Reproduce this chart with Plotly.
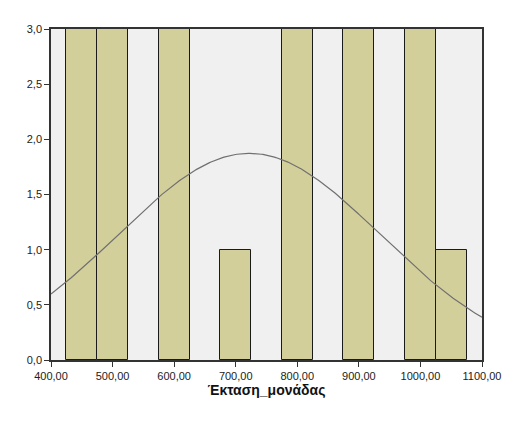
import numpy as np
import plotly.graph_objects as go

bin_centers = [450, 500, 600, 700, 800, 900, 1000, 1050]
counts = [3, 3, 3, 1, 3, 3, 3, 1]
bin_width = 50
curve_mean = 722.0
curve_sd = 213.0
x_ticks = [400, 500, 600, 700, 800, 900, 1000, 1100]
y_ticks = [0, 0.5, 1.0, 1.5, 2.0, 2.5, 3.0]

n_total = sum(counts)
xs = np.linspace(400, 1100, 300)
ys = n_total * bin_width / (curve_sd * np.sqrt(2 * np.pi)) * np.exp(-0.5 * ((xs - curve_mean) / curve_sd) ** 2)

fig = go.Figure()
fig.add_trace(go.Bar(
    x=bin_centers, y=counts, width=[bin_width] * len(bin_centers),
    marker=dict(color="#d3cf9b", line=dict(color="#1a1a1a", width=1)),
    showlegend=False,
))
fig.add_trace(go.Scatter(
    x=xs, y=ys, mode="lines", line=dict(color="#707070", width=1.2),
    showlegend=False,
))

fig.update_layout(
    width=512, height=431,
    margin=dict(l=43, r=38, t=21, b=79),
    paper_bgcolor="white", plot_bgcolor="#f0f0f0",
    separators=",.",
    bargap=0,
    font=dict(family="Liberation Sans, Arial, sans-serif", size=11, color="#222"),
)
fig.update_xaxes(
    range=[400, 1100], tickvals=x_ticks, tickformat=".2f",
    showgrid=False, zeroline=False,
    showline=True, linecolor="#333", linewidth=1.5, mirror=True,
    ticks="outside", ticklen=5, tickcolor="#333",
    title=dict(text="<b>Έκταση_μονάδας</b>", font=dict(size=14, color="#111"), standoff=4),
)
fig.update_yaxes(
    range=[0, 3.0], tickvals=y_ticks, tickformat=".1f",
    showgrid=False, zeroline=False,
    showline=True, linecolor="#333", linewidth=1.5, mirror=True,
    ticks="outside", ticklen=5, tickcolor="#333",
)

fig.write_html("out.html")
